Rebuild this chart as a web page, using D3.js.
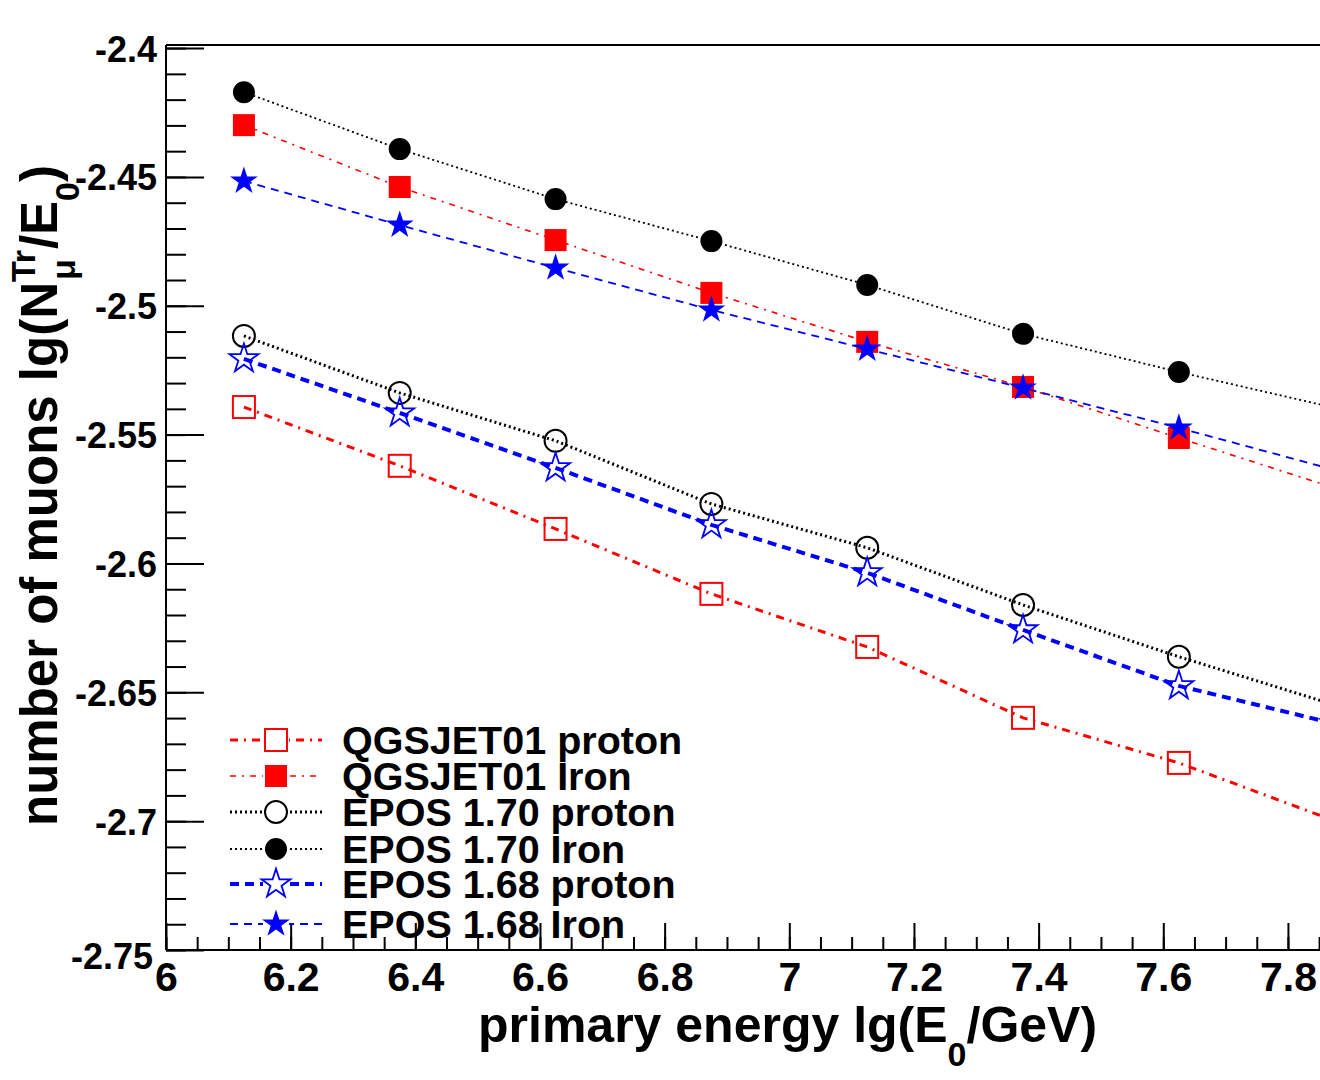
<!DOCTYPE html>
<html>
<head>
<meta charset="utf-8">
<script src="https://cdn.jsdelivr.net/npm/d3@7"></script>
<style>
  body { margin: 0; background: #fff; }
  svg text { font-family: "Liberation Sans", Arial, sans-serif; font-weight: bold; fill: #000; }
</style>
</head>
<body>
<div id="chart"></div>
<script>
// energies (lg E0/GeV) of the simulated points
const energies = [6.125, 6.375, 6.625, 6.875, 7.125, 7.375, 7.625, 7.875];

const qgsProton = [-2.5393, -2.5621, -2.5866, -2.6118, -2.6324, -2.6599, -2.6774, -2.6999];
const qgsIron = [-2.4299, -2.4539, -2.4745, -2.4950, -2.5140, -2.5315, -2.5513, -2.5707];
const epos170Proton = [-2.5117, -2.5338, -2.5524, -2.5769, -2.5939, -2.6161, -2.6362, -2.6549];
const epos170Iron = [-2.4171, -2.4392, -2.4586, -2.4749, -2.4919, -2.5109, -2.5257, -2.5396];
const epos168Proton = [-2.5206, -2.5416, -2.5629, -2.5850, -2.6036, -2.6258, -2.6475, -2.6622];
const epos168Iron = [-2.4516, -2.4687, -2.4853, -2.5016, -2.5168, -2.5319, -2.5474, -2.5637];

const seriesNames = ['QGSJET01 proton', 'QGSJET01 Iron', 'EPOS 1.70 proton',
                     'EPOS 1.70 Iron', 'EPOS 1.68 proton', 'EPOS 1.68 Iron'];

const xTickLabels = ['6', '6.2', '6.4', '6.6', '6.8', '7', '7.2', '7.4', '7.6', '7.8'];
const yTickLabels = ['-2.4', '-2.45', '-2.5', '-2.55', '-2.6', '-2.65', '-2.7', '-2.75'];

const W = 1320, H = 1080;
const svg = d3.select('#chart').append('svg')
    .attr('width', W)
    .attr('height', H);

const x = d3.scaleLinear().domain([6, 8]).range([166, 166 + 2 * 623.3]);
const y = d3.scaleLinear().domain([-2.75, -2.3988]).range([950, 45]);

// style for each series: colour, dash, width, marker
const styles = [
    { color: '#ff0000', dash: '8,6,2,6', width: 3, marker: 'openSquare' },
    { color: '#ff0000', dash: '6,6,2,6', width: 1.6, marker: 'square' },
    { color: '#000000', dash: '2,3', width: 3, marker: 'openCircle' },
    { color: '#000000', dash: '2,3', width: 1.8, marker: 'circle' },
    { color: '#0000ff', dash: '9,6', width: 4, marker: 'openStar' },
    { color: '#0000ff', dash: '8,6', width: 1.8, marker: 'star' }
];
const allSeries = [qgsProton, qgsIron, epos170Proton, epos170Iron, epos168Proton, epos168Iron];

const plot = svg.append('g');

// top of the frame
svg.append('line').attr('x1', 166).attr('x2', W).attr('y1', y.range()[1]).attr('y2', y.range()[1])
    .attr('stroke', '#000').attr('stroke-width', 2);

function drawMarker(g, type, color) {
    const starPath = d3.symbol().type(d3.symbolStar);
    switch (type) {
        case 'openSquare':
            g.append('rect').attr('x', -11).attr('y', -11).attr('width', 22).attr('height', 22)
                .attr('fill', 'none').attr('stroke', color).attr('stroke-width', 2);
            break;
        case 'square':
            g.append('rect').attr('x', -11).attr('y', -11).attr('width', 22).attr('height', 22)
                .attr('fill', color);
            break;
        case 'openCircle':
            g.append('circle').attr('r', 11).attr('fill', 'none').attr('stroke', color).attr('stroke-width', 2);
            break;
        case 'circle':
            g.append('circle').attr('r', 11).attr('fill', color);
            break;
        case 'openStar':
            g.append('path').attr('d', starPath.size(260)()).attr('fill', 'none')
                .attr('stroke', color).attr('stroke-width', 1.8);
            break;
        case 'star':
            g.append('path').attr('d', starPath.size(240)()).attr('fill', color);
            break;
    }
}

const line = d3.line().x((d, i) => x(energies[i])).y(d => y(d));

allSeries.forEach((vals, k) => {
    const s = styles[k];
    plot.append('path')
        .datum(vals)
        .attr('d', line)
        .attr('fill', 'none')
        .attr('stroke', s.color)
        .attr('stroke-width', s.width)
        .attr('stroke-dasharray', s.dash);
    vals.forEach((v, i) => {
        const g = plot.append('g').attr('transform', `translate(${x(energies[i])},${y(v)})`);
        drawMarker(g, s.marker, s.color);
    });
});

// y axis: major and minor ticks
const yMajor = d3.range(0, 8).map(i => -2.4 - 0.05 * i);
const yMinor = d3.range(0, 36).map(i => -2.75 + 0.01 * i).filter(v => v <= -2.399);
const yAxisG = svg.append('g').attr('transform', 'translate(166,0)');
yAxisG.call(d3.axisLeft(y).tickValues(yMinor).tickSize(-20).tickFormat(''));
yAxisG.selectAll('.tick line').attr('stroke-width', 2);
yAxisG.select('.domain').attr('stroke-width', 2).attr('d', `M0,${y.range()[1]}V950`);
const yMajG = svg.append('g').attr('transform', 'translate(166,0)');
yMajG.call(d3.axisLeft(y).tickValues(yMajor).tickSize(-38).tickPadding(9)
    .tickFormat((d, i) => yTickLabels[i]));
yMajG.select('.domain').remove();
yMajG.selectAll('.tick line').attr('stroke-width', 2);
yMajG.selectAll('.tick text').style('font-size', '36px').attr('dy', '0.36em');
// the lowest label sits a bit lower, like the original
yMajG.selectAll('.tick text').filter((d, i) => i === yMajor.length - 1).attr('dy', '0.5em').attr('x', -13);

// x axis
const xMajor = d3.range(0, 10).map(i => 6 + 0.2 * i);
const xMinor = d3.range(0, 38).map(i => 6 + 0.05 * i);
const xAxisG = svg.append('g').attr('transform', 'translate(0,950)');
xAxisG.call(d3.axisBottom(x).tickValues(xMinor).tickSize(-13).tickFormat(''));
xAxisG.select('.domain').attr('stroke-width', 2).attr('d', `M166,0H${W}`);
xAxisG.selectAll('.tick line').attr('stroke-width', 2);
const xMajG = svg.append('g').attr('transform', 'translate(0,950)');
xMajG.call(d3.axisBottom(x).tickValues(xMajor).tickSize(-27).tickPadding(0)
    .tickFormat((d, i) => xTickLabels[i]));
xMajG.select('.domain').remove();
xMajG.selectAll('.tick line').attr('stroke-width', 2);
xMajG.selectAll('.tick text').style('font-size', '41px').attr('y', 41).attr('dy', null);

// axis titles
const xt = svg.append('text').attr('x', 478).attr('y', 1042).style('font-size', '50px');
xt.append('tspan').text('primary energy lg(E');
xt.append('tspan').text('0').attr('dy', 24).style('font-size', '34px');
xt.append('tspan').text('/GeV)').attr('dy', -24);

const yt = svg.append('text').attr('transform', 'translate(57,826) rotate(-90)').style('font-size', '51px');
yt.append('tspan').text('number of muons lg(N');
yt.append('tspan').text('Tr').attr('dy', -22).style('font-size', '34px');
yt.append('tspan').text('μ').attr('dx', -30).attr('dy', 40).style('font-size', '34px');
yt.append('tspan').text('/E').attr('dx', 10).attr('dy', -18);
yt.append('tspan').text('0').attr('dy', 22).style('font-size', '34px');
yt.append('tspan').text(')').attr('dy', -22);

// legend
const legendY = [740, 776, 812, 849, 884, 924];
const legend = svg.append('g');
seriesNames.forEach((name, k) => {
    const s = styles[k];
    const row = legend.append('g').attr('transform', `translate(0,${legendY[k]})`);
    row.append('line').attr('x1', 230).attr('x2', 322).attr('y1', 0).attr('y2', 0)
        .attr('stroke', s.color).attr('stroke-width', s.width).attr('stroke-dasharray', s.dash);
    const m = row.append('g').attr('transform', 'translate(276,0)');
    m.append('rect').attr('x', -13).attr('y', -13).attr('width', 26).attr('height', 26).attr('fill', '#fff');
    drawMarker(m, s.marker, s.color);
    row.append('text').attr('x', 342).attr('y', 14).text(name).style('font-size', '39.5px');
});
</script>
</body>
</html>
